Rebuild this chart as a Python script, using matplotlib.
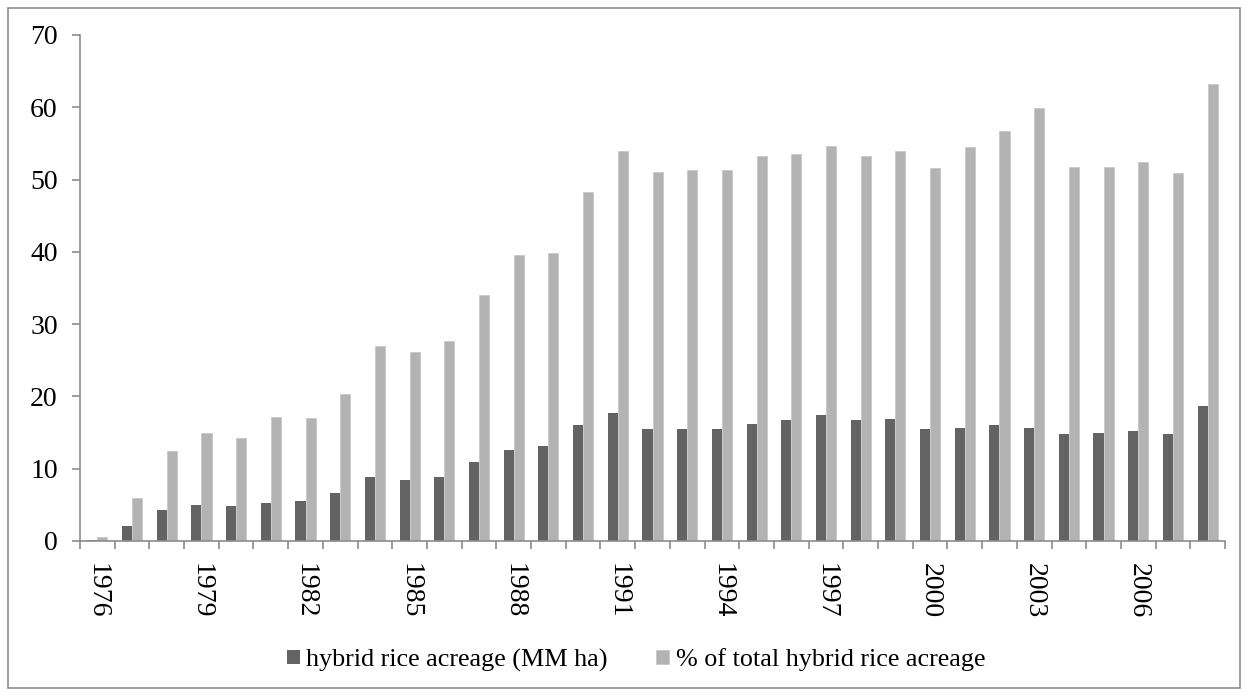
import matplotlib.pyplot as plt
import matplotlib.patches as mpatches
import numpy as np

plt.rcParams['font.family'] = ['Liberation Serif', 'DejaVu Serif']

years = list(range(1976, 2009))
acreage = [0.2, 2.1, 4.3, 5.0, 4.8, 5.3, 5.5, 6.7, 8.9, 8.4, 8.9, 10.9, 12.6, 13.1,
           16.0, 17.7, 15.5, 15.5, 15.5, 16.2, 16.7, 17.4, 16.7, 16.9, 15.5, 15.7,
           16.0, 15.7, 14.8, 15.0, 15.2, 14.8, 18.7]
share = [0.6, 6.0, 12.5, 15.0, 14.3, 17.2, 17.0, 20.4, 27.0, 26.2, 27.6, 34.0, 39.6,
         39.9, 48.3, 54.0, 51.1, 51.3, 51.3, 53.3, 53.5, 54.7, 53.3, 54.0, 51.6, 54.5,
         56.7, 59.9, 51.8, 51.8, 52.5, 50.9, 63.2]

dark = '#636363'
light = '#b3b3b3'
axis_col = '#8c8c8c'

fig = plt.figure(figsize=(12.48, 6.96), dpi=100)
ax = fig.add_axes([80 / 1248, 1 - 541 / 696, 1145 / 1248, 506 / 696])

x = np.arange(len(years))
w = 0.29
ax.bar(x - w / 2, acreage, width=w, color=dark, label='hybrid rice acreage (MM ha)')
ax.bar(x + w / 2, share, width=w, color=light, edgecolor='#c8c8c8', linewidth=0.6,
       label='% of total hybrid rice acreage')

ax.set_xlim(-0.5, len(years) - 0.5)
ax.set_ylim(0, 70)
ax.set_yticks(range(0, 71, 10))

# category boundaries carry the ticks, labels every third year
ax.set_xticks(np.arange(len(years) + 1) - 0.5)
ax.set_xticklabels([])
ax.set_xticks(x[::3], minor=True)
ax.set_xticklabels([str(y) for y in years[::3]], minor=True, rotation=270, fontsize=20)
ax.tick_params(axis='x', which='minor', length=0, pad=16)
ax.tick_params(axis='x', which='major', length=6, color=axis_col, width=1.2)
ax.tick_params(axis='y', length=6, color=axis_col, width=1.2, labelsize=20, pad=10)

for s in ['top', 'right']:
    ax.spines[s].set_visible(False)
for s in ['left', 'bottom']:
    ax.spines[s].set_color(axis_col)
    ax.spines[s].set_linewidth(1.2)

fig.legend(loc='center', bbox_to_anchor=(636 / 1248, 1 - 660 / 696), ncol=2, frameon=False,
           fontsize=18.8, handlelength=0.5, handleheight=0.5, handletextpad=0.25,
           columnspacing=1.85, borderpad=0)

fig.patches.append(mpatches.Rectangle((8 / 1248, 8 / 696), 1 - 16 / 1248, 1 - 16 / 696,
                                      transform=fig.transFigure, fill=False,
                                      edgecolor=axis_col, linewidth=1.2))

plt.savefig('out.png', dpi=100)
